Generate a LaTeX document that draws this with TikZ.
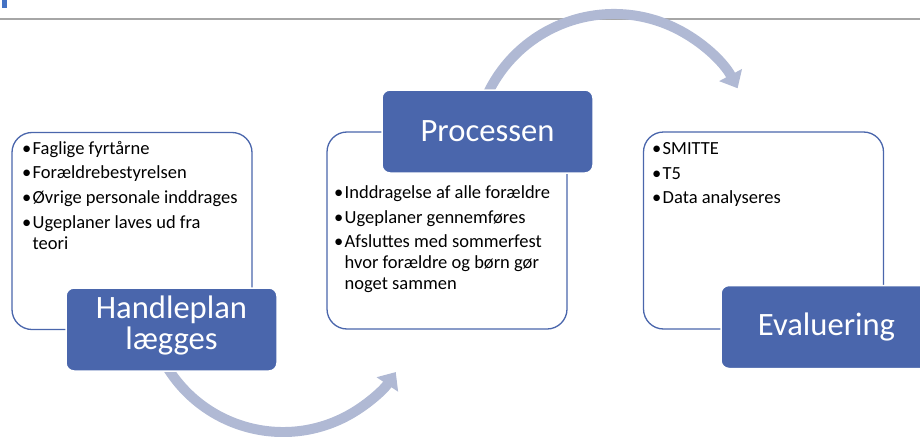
\documentclass[tikz,border=0pt]{standalone}
\usepackage{fontspec}
\setmainfont{Carlito}
\usetikzlibrary{arrows.meta}
\definecolor{sablue}{HTML}{4A66AC}
\definecolor{arcblue}{HTML}{B0B9D4}
\definecolor{rulegray}{HTML}{A6A6A6}
\definecolor{barblue}{HTML}{4472C4}
\newcommand{\bul}{\rule{0pt}{15pt}\makebox[10.5pt][l]{\textbullet}}
\newcommand{\cont}{\hspace*{10.5pt}}
\tikzset{
  listbox/.style={draw=sablue, line width=1.3pt, fill=white, rounded corners=20pt, minimum width=240pt, minimum height=197pt, inner sep=0pt},
  titlebox/.style={fill=sablue, draw=white, line width=1.5pt, rounded corners=8pt, minimum width=211pt, minimum height=83pt, inner sep=0pt},
  titletext/.style={text=white, font=\fontsize{32.6}{31}\selectfont, align=center, inner sep=0pt, anchor=north},
  listtext/.style={anchor=north west, inner sep=0pt, align=left, font=\fontsize{18.5}{21}\selectfont},
  flowarrow/.style={draw=arcblue, line width=10pt, -{Triangle[width=25pt,length=15pt]}}
}
\begin{document}
\begin{tikzpicture}[x=1pt,y=-1pt]
\useasboundingbox (0,0) rectangle (920,436);
\clip (0,0) rectangle (920,436);
% header
\fill[barblue] (2,-2) rectangle (7,8);
\draw[rulegray, line width=1.2pt] (0,19) -- (920,19);
% arcs
\coordinate (c1) at (283,296);
\coordinate (c2) at (614,154);
\draw[flowarrow] ([shift={(150:136)}]c1) arc[start angle=150, end angle=34, radius=136];
\draw[flowarrow] ([shift={(206:140)}]c2) arc[start angle=206, end angle=332, radius=140];
% list boxes
\node[listbox] (b1) at (132,231) {};
\node[listbox] (b2) at (447,230.5) {};
\node[listbox] (b3) at (763.5,230.5) {};
\node[listtext] (l1) at (22,139) {\bul Faglige fyrtårne\\[3.7pt]
  \bul Forældrebestyrelsen\\[3.7pt]
  \bul Øvrige personale inddrages\\[3.7pt]
  \bul Ugeplaner laves ud fra\\
  \cont teori};
\node[listtext] (l2) at (334,183.3) {\bul Inddragelse af alle forældre\\[3.7pt]
  \bul Ugeplaner gennemføres\\[3.7pt]
  \bul Afsluttes med sommerfest\\
  \cont hvor forældre og børn gør\\
  \cont noget sammen};
\node[listtext] (l3) at (652,139.3) {\bul SMITTE\\[3.7pt]
  \bul T5\\[3.7pt]
  \bul Data analyseres};
% title boxes
\node[titlebox] (t1) at (171.5,329.5) {};
\node[titlebox] (t2) at (487.5,131.5) {};
\node[titlebox] (t3) at (826.5,327) {};
\node[titletext] (t1text) at (171.5,294.3) {\rule{0pt}{24pt}Handleplan\\lægges};
\node[titletext] (t2text) at (487.5,117) {\rule{0pt}{24pt}Processen};
\node[titletext] (t3text) at (826.5,311) {\rule{0pt}{24pt}Evaluering};
\end{tikzpicture}
\end{document}
